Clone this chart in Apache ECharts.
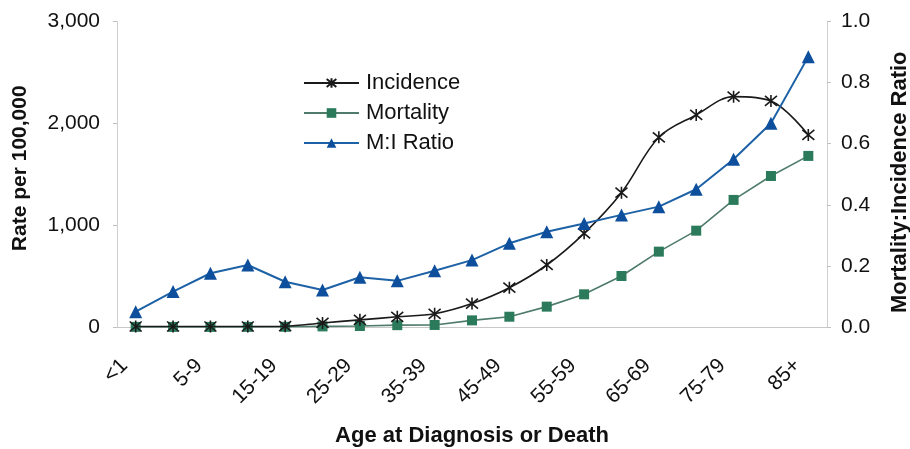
<!DOCTYPE html>
<html>
<head>
<meta charset="utf-8">
<script src="https://cdn.jsdelivr.net/npm/echarts@6/dist/echarts.min.js"></script>
<style>
html,body{margin:0;padding:0;background:#fff;}
#chart{width:910px;height:449px;}
</style>
</head>
<body>
<div id="chart"></div>
<script>
var categories = ['<1','1-4','5-9','10-14','15-19','20-24','25-29','30-34','35-39','40-44','45-49','50-54','55-59','60-64','65-69','70-74','75-79','80-84','85+'];
var incidence = [5, 5, 5, 5, 8, 40, 70, 100, 130, 230, 386, 609, 920, 1319, 1863, 2082, 2262, 2220, 1886];
var mortality = [1, 1, 1, 1, 2, 6, 10, 18, 20, 65, 101, 200, 321, 501, 740, 946, 1248, 1483, 1680];
var ratio = [0.05, 0.116, 0.176, 0.203, 0.148, 0.121, 0.163, 0.151, 0.184, 0.219, 0.274, 0.312, 0.339, 0.367, 0.394, 0.451, 0.549, 0.667, 0.885];
var leftTicks = [0, 1000, 2000, 3000];
var rightTicks = [0, 0.2, 0.4, 0.6, 0.8, 1.0];

var FONT = '"Liberation Sans", Arial, sans-serif';
var asterisk = 'path://M0,0L10,10M10,0L0,10M5,-1L5,11';

var chart = echarts.init(document.getElementById('chart'));
chart.setOption({
  animation: false,
  backgroundColor: '#fff',
  textStyle: { fontFamily: FONT },
  grid: { left: 117, right: 83, top: 21.5, bottom: 122, containLabel: false, outerBoundsMode: 'none' },
  legend: {
    left: 298, top: 67, orient: 'vertical',
    itemWidth: 55, itemHeight: 12, itemGap: 8,
    textStyle: { fontFamily: FONT, fontSize: 22, color: '#111', lineHeight: 22, padding: [0,0,0,2] },
    data: ['Incidence', 'Mortality', 'M:I Ratio']
  },
  xAxis: {
    type: 'category', data: categories, boundaryGap: true,
    axisLine: { lineStyle: { color: '#c8c8c8', width: 1 } },
    axisTick: { show: false },
    axisLabel: { interval: 1, rotate: 45, margin: 24, padding: [0, 16, 0, 0], fontSize: 21, color: '#111', fontFamily: FONT },
    name: 'Age at Diagnosis or Death', nameLocation: 'middle', nameGap: 98,
    nameTextStyle: { fontSize: 22, fontWeight: 'bold', color: '#111', fontFamily: FONT }
  },
  yAxis: [{
    type: 'value', min: leftTicks[0], max: leftTicks[leftTicks.length - 1], interval: 1000,
    position: 'left',
    axisLine: { show: true, lineStyle: { color: '#d0d0d0' } },
    axisTick: { show: true, length: 4, lineStyle: { color: '#c0c0c0' } },
    splitLine: { show: false },
    axisLabel: { margin: 17, fontSize: 21, color: '#111', fontFamily: FONT,
      formatter: function (v) { return v.toLocaleString('en-US'); } },
    name: 'Rate per 100,000', nameLocation: 'middle', nameGap: 86, nameRotate: 90,
    nameTextStyle: { fontSize: 21, fontWeight: 'bold', color: '#111', fontFamily: FONT, padding: [0, 0, 0, 12] }
  }, {
    type: 'value', min: rightTicks[0], max: rightTicks[rightTicks.length - 1], interval: 0.2,
    position: 'right',
    axisLine: { show: true, lineStyle: { color: '#d0d0d0' } },
    axisTick: { show: true, length: 4, lineStyle: { color: '#c0c0c0' } },
    splitLine: { show: false },
    axisLabel: { margin: 14, fontSize: 21, color: '#111', fontFamily: FONT,
      formatter: function (v) { return v.toFixed(1); } },
    name: 'Mortality:Incidence Ratio', nameLocation: 'middle', nameGap: 62, nameRotate: 90,
    nameTextStyle: { fontSize: 22, fontWeight: 'bold', color: '#111', fontFamily: FONT, padding: [0, 16, 0, 0] }
  }],
  series: [{
    name: 'Incidence', type: 'line', yAxisIndex: 0, data: incidence,
    smooth: 0.35, symbol: asterisk, symbolSize: 12,
    lineStyle: { color: '#1a1a1a', width: 1.6 },
    itemStyle: { color: '#1a1a1a', borderColor: '#1a1a1a', borderWidth: 1.6 },
    z: 3
  }, {
    name: 'Mortality', type: 'line', yAxisIndex: 0, data: mortality,
    symbol: 'rect', symbolSize: 10,
    lineStyle: { color: '#4f7c6a', width: 1.6 },
    itemStyle: { color: '#2b7a5c', borderWidth: 0 },
    z: 2
  }, {
    name: 'M:I Ratio', type: 'line', yAxisIndex: 1, data: ratio,
    symbol: 'triangle', symbolSize: 13,
    lineStyle: { color: '#1d62a6', width: 2 },
    itemStyle: { color: '#0d4f9c', borderWidth: 0 },
    z: 4
  }]
});
</script>
</body>
</html>
